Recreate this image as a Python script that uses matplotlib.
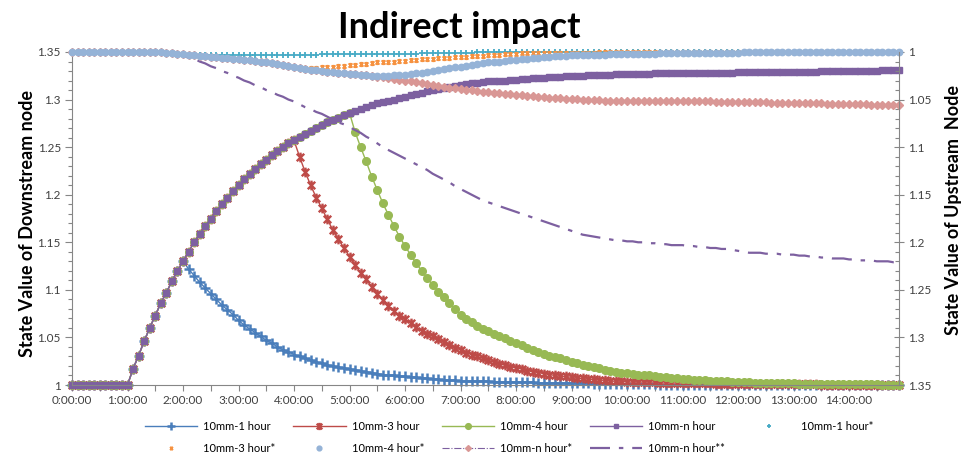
import numpy as np
import matplotlib
matplotlib.use("Agg")
import matplotlib.pyplot as plt
from matplotlib.path import Path
from matplotlib.ticker import MultipleLocator, FuncFormatter

plt.rcParams['font.family'] = ['Lato', 'DejaVu Sans']

# time axis: one sample every 6 minutes, 0:00 .. 14:54
hours = np.arange(150) / 10.0
hour_labels = [f"{h}:00:00" for h in range(15)]

# ---- downstream node (left axis) ----
down_1h = [
    1.000, 1.000, 1.000, 1.000, 1.000, 1.000, 1.000, 1.000, 1.000, 1.000,
    1.000, 1.017, 1.031, 1.046, 1.060, 1.073, 1.086, 1.097, 1.109, 1.120,
    1.130, 1.122, 1.115, 1.108, 1.102, 1.096, 1.090, 1.084, 1.079, 1.074,
    1.068, 1.063, 1.059, 1.055, 1.051, 1.047, 1.044, 1.040, 1.037, 1.035,
    1.032, 1.030, 1.028, 1.026, 1.024, 1.023, 1.021, 1.020, 1.019, 1.018,
    1.017, 1.016, 1.015, 1.014, 1.013, 1.012, 1.011, 1.010, 1.010, 1.009,
    1.009, 1.008, 1.008, 1.007, 1.007, 1.006, 1.006, 1.005, 1.005, 1.005,
    1.004, 1.004, 1.004, 1.004, 1.004, 1.004, 1.003, 1.003, 1.003, 1.003,
    1.003, 1.003, 1.003, 1.003, 1.002, 1.002, 1.002, 1.002, 1.002, 1.002,
    1.002, 1.002, 1.002, 1.002, 1.001, 1.001, 1.001, 1.001, 1.001, 1.001,
    1.001, 1.001, 1.001, 1.001, 1.001, 1.001, 1.000, 1.000, 1.000, 1.000,
    1.000, 1.000, 1.000, 1.000, 1.000, 1.000, 1.000, 1.000, 1.000, 1.000,
    1.000, 1.000, 1.000, 1.000, 1.000, 1.000, 1.000, 1.000, 1.000, 1.000,
    1.000, 1.000, 1.000, 1.000, 1.000, 1.000, 1.000, 1.000, 1.000, 1.000,
    1.000, 1.000, 1.000, 1.000, 1.000, 1.000, 1.000, 1.000, 1.000, 1.000,
]
down_3h = [
    1.000, 1.000, 1.000, 1.000, 1.000, 1.000, 1.000, 1.000, 1.000, 1.000,
    1.000, 1.017, 1.031, 1.046, 1.060, 1.073, 1.086, 1.097, 1.109, 1.120,
    1.130, 1.140, 1.150, 1.159, 1.167, 1.175, 1.183, 1.190, 1.197, 1.204,
    1.210, 1.216, 1.222, 1.227, 1.232, 1.237, 1.242, 1.246, 1.250, 1.254,
    1.257, 1.240, 1.224, 1.210, 1.197, 1.186, 1.174, 1.163, 1.153, 1.144,
    1.135, 1.126, 1.118, 1.111, 1.103, 1.096, 1.089, 1.083, 1.078, 1.073,
    1.069, 1.065, 1.061, 1.057, 1.054, 1.051, 1.048, 1.045, 1.042, 1.039,
    1.037, 1.034, 1.032, 1.030, 1.028, 1.026, 1.024, 1.022, 1.021, 1.019,
    1.018, 1.017, 1.015, 1.014, 1.013, 1.012, 1.011, 1.010, 1.009, 1.009,
    1.008, 1.007, 1.007, 1.006, 1.006, 1.005, 1.005, 1.004, 1.004, 1.004,
    1.003, 1.003, 1.003, 1.003, 1.003, 1.003, 1.002, 1.002, 1.002, 1.002,
    1.002, 1.002, 1.002, 1.002, 1.002, 1.002, 1.001, 1.001, 1.001, 1.001,
    1.001, 1.001, 1.001, 1.001, 1.001, 1.001, 1.001, 1.001, 1.001, 1.001,
    1.001, 1.001, 1.001, 1.001, 1.001, 1.000, 1.000, 1.000, 1.000, 1.000,
    1.000, 1.000, 1.000, 1.000, 1.000, 1.000, 1.000, 1.000, 1.000, 1.000,
]
down_4h = [
    1.000, 1.000, 1.000, 1.000, 1.000, 1.000, 1.000, 1.000, 1.000, 1.000,
    1.000, 1.017, 1.031, 1.046, 1.060, 1.073, 1.086, 1.097, 1.109, 1.120,
    1.130, 1.140, 1.150, 1.159, 1.167, 1.175, 1.183, 1.190, 1.197, 1.204,
    1.210, 1.216, 1.222, 1.227, 1.232, 1.237, 1.242, 1.246, 1.250, 1.254,
    1.257, 1.261, 1.264, 1.267, 1.270, 1.273, 1.276, 1.279, 1.281, 1.284,
    1.286, 1.266, 1.250, 1.235, 1.219, 1.205, 1.191, 1.179, 1.167, 1.156,
    1.146, 1.137, 1.128, 1.120, 1.112, 1.105, 1.098, 1.092, 1.086, 1.080,
    1.074, 1.069, 1.066, 1.062, 1.059, 1.057, 1.054, 1.051, 1.049, 1.046,
    1.044, 1.042, 1.039, 1.037, 1.035, 1.033, 1.031, 1.029, 1.028, 1.026,
    1.024, 1.023, 1.021, 1.020, 1.019, 1.018, 1.016, 1.015, 1.014, 1.013,
    1.013, 1.012, 1.011, 1.010, 1.010, 1.009, 1.008, 1.008, 1.007, 1.007,
    1.006, 1.006, 1.005, 1.005, 1.005, 1.004, 1.004, 1.004, 1.004, 1.003,
    1.003, 1.003, 1.003, 1.002, 1.002, 1.002, 1.002, 1.002, 1.002, 1.002,
    1.002, 1.001, 1.001, 1.001, 1.001, 1.001, 1.001, 1.001, 1.001, 1.001,
    1.001, 1.001, 1.001, 1.001, 1.001, 1.001, 1.000, 1.000, 1.000, 1.000,
]
down_nh = [
    1.000, 1.000, 1.000, 1.000, 1.000, 1.000, 1.000, 1.000, 1.000, 1.000,
    1.000, 1.017, 1.031, 1.046, 1.060, 1.073, 1.086, 1.097, 1.109, 1.120,
    1.130, 1.140, 1.150, 1.159, 1.167, 1.175, 1.183, 1.190, 1.197, 1.204,
    1.210, 1.216, 1.222, 1.227, 1.232, 1.237, 1.242, 1.246, 1.250, 1.254,
    1.257, 1.261, 1.264, 1.267, 1.270, 1.273, 1.276, 1.279, 1.281, 1.284,
    1.286, 1.288, 1.290, 1.292, 1.294, 1.296, 1.297, 1.299, 1.300, 1.302,
    1.303, 1.305, 1.306, 1.307, 1.309, 1.310, 1.311, 1.312, 1.313, 1.314,
    1.315, 1.316, 1.317, 1.317, 1.318, 1.319, 1.319, 1.320, 1.320, 1.321,
    1.321, 1.322, 1.322, 1.323, 1.323, 1.323, 1.324, 1.324, 1.324, 1.325,
    1.325, 1.325, 1.325, 1.326, 1.326, 1.326, 1.326, 1.326, 1.327, 1.327,
    1.327, 1.327, 1.327, 1.327, 1.327, 1.328, 1.328, 1.328, 1.328, 1.328,
    1.328, 1.328, 1.328, 1.328, 1.328, 1.328, 1.328, 1.328, 1.328, 1.328,
    1.329, 1.329, 1.329, 1.329, 1.329, 1.329, 1.329, 1.329, 1.329, 1.329,
    1.329, 1.329, 1.329, 1.329, 1.329, 1.330, 1.330, 1.330, 1.330, 1.330,
    1.330, 1.330, 1.330, 1.330, 1.330, 1.330, 1.331, 1.331, 1.331, 1.331,
]

# ---- upstream node (right axis, inverted) ----
up_1h = [
    1.000, 1.000, 1.000, 1.000, 1.000, 1.000, 1.000, 1.000, 1.000, 1.000,
    1.000, 1.000, 1.000, 1.000, 1.000, 1.000, 1.000, 1.001, 1.001, 1.002,
    1.002, 1.003, 1.003, 1.003, 1.003, 1.003, 1.003, 1.003, 1.003, 1.003,
    1.003, 1.003, 1.003, 1.003, 1.003, 1.003, 1.003, 1.003, 1.003, 1.003,
    1.003, 1.003, 1.003, 1.003, 1.003, 1.002, 1.002, 1.002, 1.002, 1.002,
    1.002, 1.002, 1.002, 1.002, 1.002, 1.002, 1.002, 1.002, 1.002, 1.002,
    1.002, 1.002, 1.002, 1.001, 1.001, 1.001, 1.001, 1.001, 1.001, 1.001,
    1.001, 1.001, 1.001, 1.000, 1.000, 1.000, 1.000, 1.000, 1.000, 1.000,
    1.000, 1.000, 1.000, 1.000, 1.000, 1.000, 1.000, 1.000, 1.000, 1.000,
    1.000, 1.000, 1.000, 1.000, 1.000, 1.000, 1.000, 1.000, 1.000, 1.000,
    1.000, 1.000, 1.000, 1.000, 1.000, 1.000, 1.000, 1.000, 1.000, 1.000,
    1.000, 1.000, 1.000, 1.000, 1.000, 1.000, 1.000, 1.000, 1.000, 1.000,
    1.000, 1.000, 1.000, 1.000, 1.000, 1.000, 1.000, 1.000, 1.000, 1.000,
    1.000, 1.000, 1.000, 1.000, 1.000, 1.000, 1.000, 1.000, 1.000, 1.000,
    1.000, 1.000, 1.000, 1.000, 1.000, 1.000, 1.000, 1.000, 1.000, 1.000,
]
up_3h = [
    1.000, 1.000, 1.000, 1.000, 1.000, 1.000, 1.000, 1.000, 1.000, 1.000,
    1.000, 1.000, 1.000, 1.000, 1.000, 1.000, 1.000, 1.001, 1.001, 1.002,
    1.002, 1.003, 1.003, 1.004, 1.004, 1.005, 1.005, 1.006, 1.006, 1.007,
    1.007, 1.008, 1.008, 1.009, 1.010, 1.011, 1.012, 1.013, 1.014, 1.015,
    1.016, 1.017, 1.017, 1.017, 1.017, 1.016, 1.016, 1.016, 1.015, 1.015,
    1.014, 1.014, 1.013, 1.013, 1.012, 1.011, 1.011, 1.010, 1.010, 1.009,
    1.009, 1.008, 1.008, 1.007, 1.007, 1.007, 1.006, 1.006, 1.006, 1.005,
    1.005, 1.005, 1.004, 1.004, 1.004, 1.003, 1.003, 1.003, 1.002, 1.002,
    1.002, 1.001, 1.001, 1.001, 1.001, 1.001, 1.001, 1.001, 1.001, 1.001,
    1.001, 1.001, 1.001, 1.001, 1.001, 1.000, 1.000, 1.000, 1.000, 1.000,
    1.000, 1.000, 1.000, 1.000, 1.000, 1.000, 1.000, 1.000, 1.000, 1.000,
    1.000, 1.000, 1.000, 1.000, 1.000, 1.000, 1.000, 1.000, 1.000, 1.000,
    1.000, 1.000, 1.000, 1.000, 1.000, 1.000, 1.000, 1.000, 1.000, 1.000,
    1.000, 1.000, 1.000, 1.000, 1.000, 1.000, 1.000, 1.000, 1.000, 1.000,
    1.000, 1.000, 1.000, 1.000, 1.000, 1.000, 1.000, 1.000, 1.000, 1.000,
]
up_4h = [
    1.000, 1.000, 1.000, 1.000, 1.000, 1.000, 1.000, 1.000, 1.000, 1.000,
    1.000, 1.000, 1.000, 1.000, 1.000, 1.000, 1.000, 1.001, 1.001, 1.002,
    1.002, 1.003, 1.003, 1.004, 1.004, 1.005, 1.005, 1.006, 1.006, 1.007,
    1.007, 1.008, 1.008, 1.009, 1.010, 1.011, 1.012, 1.013, 1.014, 1.015,
    1.016, 1.017, 1.018, 1.019, 1.019, 1.020, 1.021, 1.021, 1.022, 1.022,
    1.023, 1.023, 1.024, 1.024, 1.025, 1.025, 1.025, 1.025, 1.024, 1.024,
    1.024, 1.023, 1.022, 1.022, 1.021, 1.020, 1.019, 1.018, 1.017, 1.016,
    1.016, 1.015, 1.014, 1.013, 1.012, 1.011, 1.010, 1.010, 1.009, 1.008,
    1.008, 1.007, 1.007, 1.006, 1.006, 1.005, 1.005, 1.004, 1.004, 1.004,
    1.003, 1.003, 1.003, 1.003, 1.003, 1.003, 1.003, 1.002, 1.002, 1.002,
    1.002, 1.002, 1.002, 1.002, 1.002, 1.002, 1.001, 1.001, 1.001, 1.001,
    1.001, 1.001, 1.001, 1.001, 1.001, 1.001, 1.001, 1.001, 1.001, 1.001,
    1.001, 1.000, 1.000, 1.000, 1.000, 1.000, 1.000, 1.000, 1.000, 1.000,
    1.000, 1.000, 1.000, 1.000, 1.000, 1.000, 1.000, 1.000, 1.000, 1.000,
    1.000, 1.000, 1.000, 1.000, 1.000, 1.000, 1.000, 1.000, 1.000, 1.000,
]
up_nh = [
    1.000, 1.000, 1.000, 1.000, 1.000, 1.000, 1.000, 1.000, 1.000, 1.000,
    1.000, 1.000, 1.000, 1.000, 1.000, 1.000, 1.000, 1.001, 1.001, 1.002,
    1.002, 1.003, 1.003, 1.004, 1.004, 1.005, 1.005, 1.006, 1.006, 1.007,
    1.007, 1.008, 1.008, 1.009, 1.010, 1.011, 1.012, 1.013, 1.014, 1.015,
    1.016, 1.017, 1.018, 1.019, 1.019, 1.020, 1.021, 1.021, 1.022, 1.022,
    1.023, 1.023, 1.024, 1.024, 1.025, 1.026, 1.026, 1.027, 1.028, 1.029,
    1.030, 1.031, 1.032, 1.033, 1.034, 1.035, 1.036, 1.037, 1.038, 1.038,
    1.039, 1.040, 1.040, 1.041, 1.042, 1.042, 1.043, 1.043, 1.044, 1.044,
    1.045, 1.045, 1.046, 1.046, 1.047, 1.047, 1.048, 1.048, 1.048, 1.049,
    1.049, 1.049, 1.050, 1.050, 1.050, 1.050, 1.051, 1.051, 1.051, 1.051,
    1.051, 1.051, 1.051, 1.051, 1.051, 1.051, 1.052, 1.052, 1.052, 1.052,
    1.052, 1.052, 1.052, 1.052, 1.052, 1.052, 1.053, 1.053, 1.053, 1.053,
    1.053, 1.053, 1.053, 1.053, 1.053, 1.053, 1.054, 1.054, 1.054, 1.054,
    1.054, 1.054, 1.054, 1.054, 1.054, 1.054, 1.055, 1.055, 1.055, 1.055,
    1.055, 1.055, 1.055, 1.055, 1.056, 1.056, 1.056, 1.056, 1.056, 1.056,
]
up_nh2 = [
    1.000, 1.000, 1.000, 1.000, 1.000, 1.000, 1.000, 1.000, 1.000, 1.000,
    1.000, 1.000, 1.000, 1.000, 1.000, 1.000, 1.000, 1.001, 1.002, 1.003,
    1.004, 1.006, 1.007, 1.010, 1.012, 1.015, 1.017, 1.020, 1.022, 1.025,
    1.027, 1.030, 1.032, 1.035, 1.037, 1.040, 1.042, 1.045, 1.047, 1.050,
    1.052, 1.055, 1.058, 1.060, 1.063, 1.065, 1.068, 1.071, 1.074, 1.076,
    1.079, 1.082, 1.085, 1.089, 1.092, 1.096, 1.100, 1.103, 1.106, 1.109,
    1.112, 1.115, 1.118, 1.121, 1.124, 1.128, 1.131, 1.134, 1.137, 1.141,
    1.144, 1.147, 1.150, 1.153, 1.156, 1.158, 1.160, 1.162, 1.164, 1.166,
    1.168, 1.170, 1.172, 1.174, 1.176, 1.178, 1.180, 1.182, 1.184, 1.186,
    1.188, 1.190, 1.192, 1.193, 1.194, 1.195, 1.196, 1.197, 1.198, 1.198,
    1.199, 1.199, 1.200, 1.200, 1.201, 1.201, 1.202, 1.202, 1.203, 1.203,
    1.203, 1.204, 1.204, 1.205, 1.205, 1.206, 1.206, 1.207, 1.207, 1.208,
    1.209, 1.210, 1.211, 1.211, 1.211, 1.212, 1.212, 1.212, 1.213, 1.213,
    1.213, 1.214, 1.214, 1.215, 1.215, 1.216, 1.216, 1.217, 1.217, 1.217,
    1.218, 1.218, 1.219, 1.219, 1.219, 1.220, 1.220, 1.220, 1.221, 1.221,
]

BLUE = "#4A7EBB"
RED = "#BE4B48"
GREEN = "#98B954"
PURPLE = "#7D60A0"
TEAL = "#46AAC5"
ORANGE = "#F69240"
LIGHTBLUE = "#95B3D7"
PINK = "#D99795"
AXISGRAY = "#868686"
TEXTGRAY = "#404040"

# asterisk marker: an "x" with a vertical stroke
star = Path([(-1, -1), (1, 1), (-1, 1), (1, -1), (0, -1.3), (0, 1.3)],
            [Path.MOVETO, Path.LINETO, Path.MOVETO, Path.LINETO,
             Path.MOVETO, Path.LINETO])

fig = plt.figure(figsize=(9.69, 4.55), dpi=100)
ax = fig.add_axes([72 / 969, 1 - 385 / 455, (899 - 72) / 969, (385 - 52) / 455])
ax2 = ax.twinx()

h1, = ax.plot(hours, down_1h, color=BLUE, lw=1, marker='+', ms=7.5, mew=1.8,
              label='10mm-1 hour', clip_on=False)
h2, = ax.plot(hours, down_3h, color=RED, lw=1, marker=star, ms=7, mew=1.7,
              label='10mm-3 hour', clip_on=False)
h3, = ax.plot(hours, down_4h, color=GREEN, lw=1, marker='o', ms=5.5,
              mec=GREEN, mfc=GREEN, label='10mm-4 hour', clip_on=False)
h4, = ax.plot(hours, down_nh, color=PURPLE, lw=1, marker='s', ms=4.6,
              mec=PURPLE, mfc=PURPLE, label='10mm-n hour', clip_on=False)

h9, = ax2.plot(hours, up_nh2, color=PURPLE, lw=1.6, ls=(0, (9, 4, 2, 4)),
               label='10mm-n hour**', zorder=2.0)
h8, = ax2.plot(hours, up_nh, color=PURPLE, lw=0.8, ls='-.', marker='D', ms=4,
               mec=PINK, mfc=PINK, label='10mm-n hour*', zorder=2.1, clip_on=False)
h5, = ax2.plot(hours, up_1h, ls='none', marker='+', ms=4.5, mew=1.3, color=TEAL,
               label='10mm-1 hour*', zorder=2.2, clip_on=False)
h6, = ax2.plot(hours, up_3h, ls='none', marker=star, ms=3.8, mew=1.2, color=ORANGE,
               label='10mm-3 hour*', zorder=2.3, clip_on=False)
h7, = ax2.plot(hours, up_4h, ls='none', marker='o', ms=4.6, color=LIGHTBLUE,
               mec=LIGHTBLUE, label='10mm-4 hour*', zorder=2.4, clip_on=False)

# axes limits
ax.set_xlim(0, 14.9)
ax.set_ylim(1.0, 1.35)
ax2.set_ylim(1.35, 1.0)

fmt = FuncFormatter(lambda v, p: f"{round(v, 2):g}")
for a in (ax, ax2):
    a.yaxis.set_major_locator(MultipleLocator(0.05))
    a.yaxis.set_minor_locator(MultipleLocator(0.01))
    a.yaxis.set_major_formatter(fmt)
    for s in a.spines.values():
        s.set_color(AXISGRAY)
        s.set_linewidth(0.8)
    a.spines['top'].set_visible(False)

ax.spines['right'].set_visible(False)
ax2.spines['left'].set_visible(False)
ax2.spines['bottom'].set_visible(False)

ax.xaxis.set_major_locator(MultipleLocator(0.5))
ax.xaxis.set_major_formatter(FuncFormatter(
    lambda v, p: hour_labels[int(round(v))] if abs(v - round(v)) < 1e-6 and int(round(v)) < len(hour_labels) else ""))

ax.tick_params(axis='x', which='major', direction='out', length=4, width=0.8,
               color=AXISGRAY, labelsize=8.5, labelcolor=TEXTGRAY, pad=3)
ax.tick_params(axis='y', which='major', direction='out', length=5, width=0.8,
               color=AXISGRAY, labelsize=8.5, labelcolor=TEXTGRAY, pad=3)
ax.tick_params(axis='y', which='minor', direction='out', length=3, width=0.8,
               color=AXISGRAY)
ax2.tick_params(axis='y', which='major', direction='inout', length=7, width=0.8,
                color=AXISGRAY, labelsize=8.5, labelcolor=TEXTGRAY, pad=3)
ax2.tick_params(axis='y', which='minor', direction='in', length=3, width=0.8,
                color=AXISGRAY)

ax.set_ylabel('State Value of Downstream node', fontsize=13, fontweight='bold')
ax.yaxis.set_label_coords(-0.0435, 0.485)
ax2.set_ylabel('State Value of Upstream  Node', fontsize=13, fontweight='bold',
               rotation=90)
ax2.yaxis.set_label_coords(1.0556, 0.526)

fig.text(459 / 969, 1 - 27 / 455, 'Indirect impact', ha='center', va='center',
         fontsize=26, fontweight='bold')

# legend laid out row by row: five entries on top, four underneath
order = [h1, h6, h2, h7, h3, h8, h4, h9, h5]
fig.legend(handles=order, labels=[h.get_label() for h in order], ncol=5,
           loc='upper left', bbox_to_anchor=(145 / 969, 1 - 421 / 455),
           frameon=False, fontsize=8, handlelength=4.7, handletextpad=0.55,
           columnspacing=1.6, labelspacing=0.95, borderpad=0, borderaxespad=0,
           numpoints=1, markerscale=0.75)

fig.savefig('out.png', dpi=100)
